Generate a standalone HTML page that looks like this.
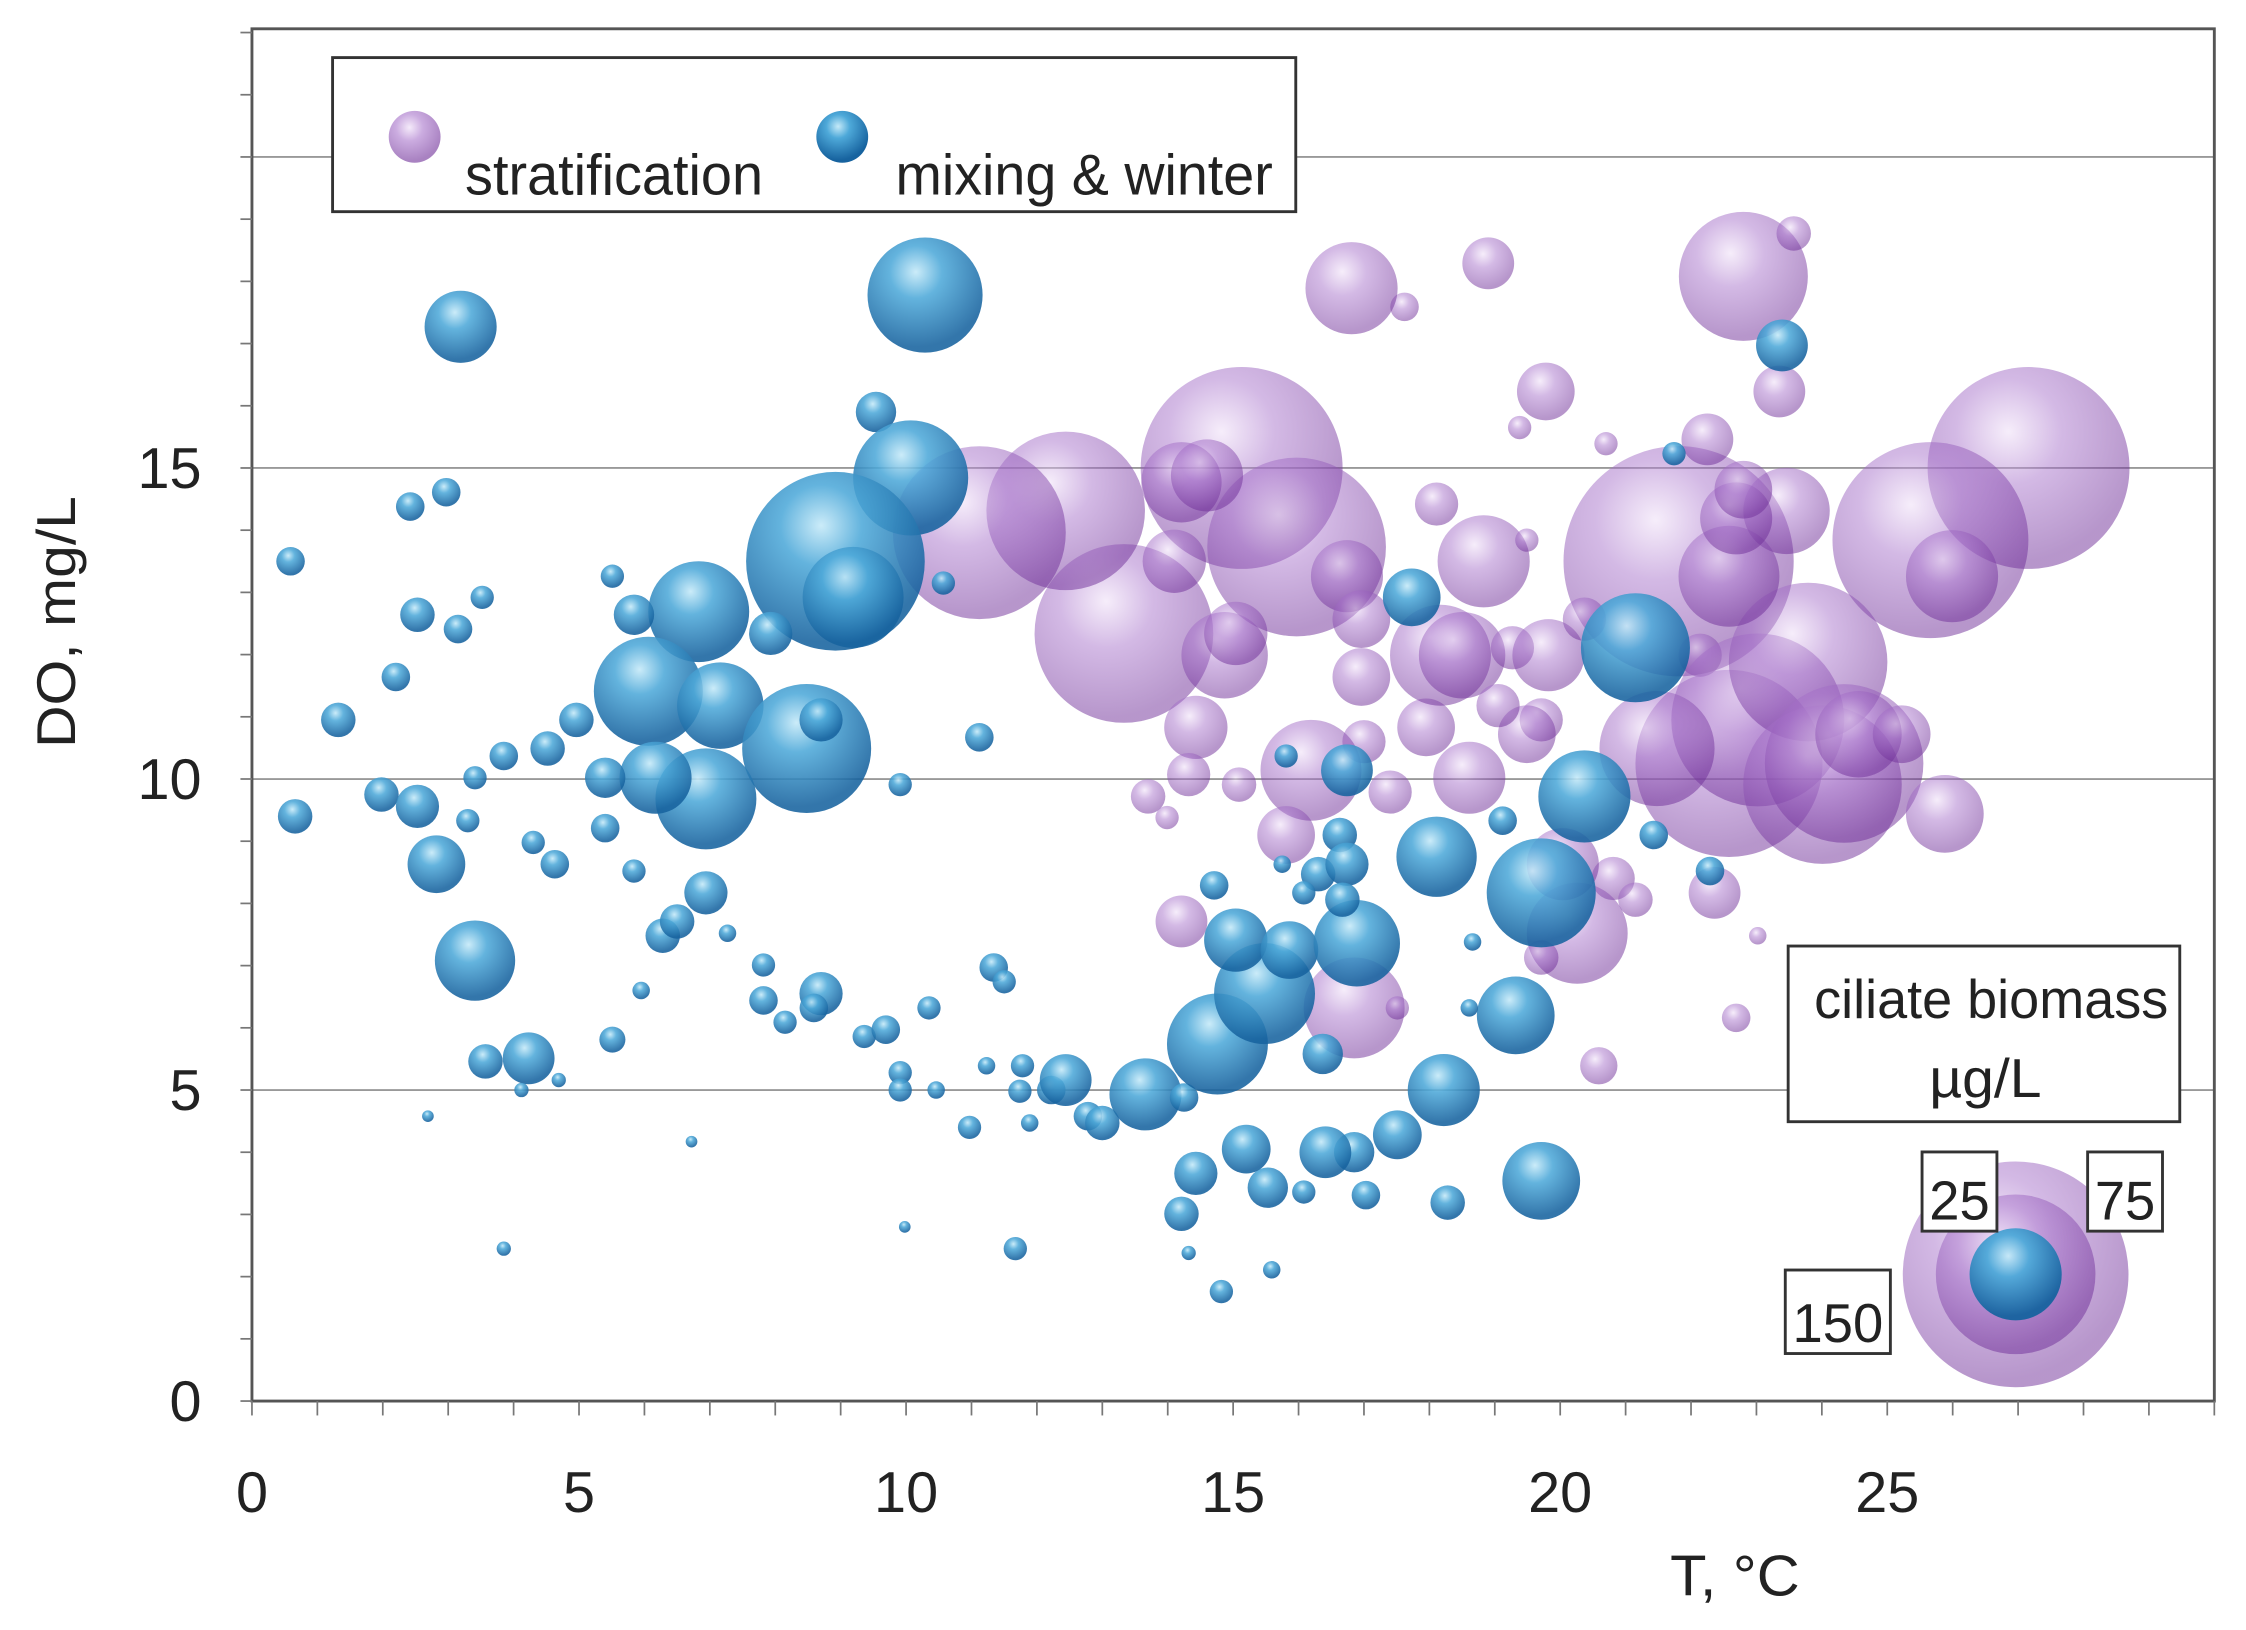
<!DOCTYPE html>
<html><head><meta charset="utf-8"><style>
html,body{margin:0;padding:0;background:#fff;}
svg{display:block;}
text{font-family:"Liberation Sans",sans-serif;fill:#222;}
</style></head><body>
<svg id="chart" width="2246" height="1630" viewBox="0 0 1560 1132" preserveAspectRatio="none" xmlns="http://www.w3.org/2000/svg">
<defs>
<radialGradient id="gp" cx="40%" cy="32%" r="65%"><stop offset="0" stop-color="#eddcf6"/><stop offset="0.4" stop-color="#a874cb"/><stop offset="1" stop-color="#6f2e98"/></radialGradient>
<radialGradient id="gb" cx="42%" cy="30%" r="65%"><stop offset="0" stop-color="#c4e9f8"/><stop offset="0.35" stop-color="#4ea9d9"/><stop offset="1" stop-color="#17639f"/></radialGradient>
</defs>
<g id="grid"></g>
<g id="purple"></g>
<g id="blue"></g>
<rect x="175" y="20" width="1363" height="953" fill="none" stroke="#555" stroke-width="2"/>
<g id="axes"></g>
<g>
<rect x="231" y="40" width="669" height="107" fill="#fff" stroke="#333" stroke-width="2"/>
<circle cx="288" cy="95" r="18" fill="url(#gp)" fill-opacity="0.6"/>
<text x="323" y="135" font-size="40" textLength="207" lengthAdjust="spacingAndGlyphs">stratification</text>
<circle cx="585" cy="95" r="18" fill="url(#gb)"/>
<text x="622" y="135" font-size="40" textLength="262" lengthAdjust="spacingAndGlyphs">mixing &amp; winter</text>
</g>
<g>
<rect x="1242" y="657" width="272" height="122" fill="#fff" stroke="#333" stroke-width="2"/>
<text x="1260" y="707" font-size="38" textLength="246" lengthAdjust="spacingAndGlyphs">ciliate biomass</text>
<text x="1340" y="762" font-size="38" textLength="78" lengthAdjust="spacingAndGlyphs">µg/L</text>
<g id="sizeleg"></g>
<rect x="1335" y="800" width="52" height="55" fill="#fff" stroke="#333" stroke-width="2"/>
<text x="1340" y="847" font-size="38" textLength="42" lengthAdjust="spacingAndGlyphs">25</text>
<rect x="1450" y="800" width="52" height="55" fill="#fff" stroke="#333" stroke-width="2"/>
<text x="1455" y="847" font-size="38" textLength="42" lengthAdjust="spacingAndGlyphs">75</text>
<rect x="1240" y="882" width="73" height="58" fill="#fff" stroke="#333" stroke-width="2"/>
<text x="1245" y="932" font-size="38" textLength="63" lengthAdjust="spacingAndGlyphs">150</text>
</g>
<text transform="translate(52,432) rotate(-90)" text-anchor="middle" font-size="38" textLength="175" lengthAdjust="spacingAndGlyphs">DO, mg/L</text>
<text x="1160" y="1108" font-size="40" textLength="90" lengthAdjust="spacingAndGlyphs">T, °C</text>
</svg>
<script>
const xTicks=[0,5,10,15,20,25];
const yTicks=[0,5,10,15];
const stratT=[27.16,25.66,25.99,21.81,22.8,23.57,23.35,22.25,23.46,20.7,19.78,19.38,18.9,17.62,16.81,15.13,15.97,13.33,12.44,11.12,14.21,14.6,14.1,14.87,14.43,14.32,15.09,15.04,16.74,16.96,16.96,17.0,16.19,15.81,17.4,17.95,18.17,18.83,18.5,18.61,19.27,19.82,19.71,19.49,19.05,20.37,22.14,22.58,23.02,23.79,24.01,24.34,22.58,22.69,22.8,21.48,24.56,25.22,25.88,22.36,20.81,21.15,23.02,22.69,20.59,20.26,20.04,16.85,14.21,13.7,13.99,19.49,18.11,19.71,17.51];
const stratDO=[15.0,13.84,13.26,13.5,18.08,18.77,16.23,15.46,14.31,15.39,16.23,15.65,18.29,17.59,17.89,15.0,13.73,12.34,14.31,13.96,14.77,14.88,13.5,11.99,10.83,10.07,9.91,12.34,13.26,12.57,11.64,10.6,10.14,9.1,9.79,10.83,11.99,13.5,11.99,10.02,12.11,11.99,10.95,10.72,11.18,12.57,11.99,10.25,10.95,11.88,9.91,10.25,13.26,14.19,14.65,10.49,10.72,10.72,9.44,8.17,8.4,8.06,7.48,6.16,5.39,7.52,8.63,6.32,7.71,9.72,9.38,13.84,14.42,7.13,6.32];
const stratB=[120,113,25,156,49,3.5,7.9,7.9,22,1.6,9.8,1.6,7.9,2.4,25,120,94,94,74,88,19,15.3,11.8,22,11.8,5.5,3.5,11.8,15.3,9.8,9.8,5.5,30,9.8,5.5,9.8,30,25,22,15.3,5.5,15.3,5.5,9.8,5.5,5.5,5.5,103,88,74,74,74,30,15.3,9.8,39,22,9.8,17.8,7.9,5.5,3.5,0.9,2.4,4.1,30,15.3,30,7.9,3.5,1.6,1.6,5.5,3.5,1.6];
const mixT=[3.19,10.29,9.54,10.07,8.92,9.19,6.83,6.06,7.16,8.48,6.94,6.17,0.59,2.42,2.97,2.53,3.15,3.52,2.2,1.32,0.66,1.98,2.53,2.82,3.41,4.23,3.57,5.51,3.85,2.69,6.72,5.84,5.51,10.57,11.12,9.91,7.93,8.7,4.96,4.52,5.4,3.85,3.41,3.3,5.4,4.63,4.3,5.84,6.28,6.94,6.5,7.27,5.95,7.82,7.82,8.7,8.59,8.15,9.36,9.69,9.91,10.35,11.34,11.5,11.78,11.23,10.46,9.91,10.97,11.74,11.89,12.22,12.44,12.78,13.0,13.66,14.25,14.76,15.48,15.04,15.86,16.89,16.3,16.63,16.74,16.74,16.67,16.08,15.75,15.81,18.11,17.73,18.22,19.32,19.71,20.37,21.15,21.43,22.29,21.74,23.39,19.71,18.28,17.51,16.85,16.41,17.03,16.08,15.53,15.2,14.43,14.21,14.82,15.59,14.32,11.67,9.98,14.71,16.37,18.66,19.12,18.61,4.12,4.69];
const mixDO=[17.27,17.78,15.9,14.84,13.5,12.92,12.69,11.41,11.18,10.49,9.68,10.02,13.5,14.38,14.61,12.64,12.41,12.92,11.64,10.95,9.4,9.75,9.56,8.63,7.08,5.51,5.46,5.81,2.45,4.58,4.17,12.64,13.26,13.15,10.67,9.91,12.34,10.95,10.95,10.49,10.02,10.37,10.02,9.33,9.21,8.63,8.98,8.52,7.48,8.17,7.71,7.52,6.6,7.01,6.44,6.55,6.32,6.09,5.86,5.97,5.28,6.32,6.97,6.74,5.39,5.39,5.0,5.0,4.4,4.98,4.47,5.0,5.16,4.58,4.47,4.93,4.88,5.74,6.55,7.41,7.25,7.36,8.47,9.1,10.14,8.63,8.06,8.17,8.63,10.37,8.75,12.92,5.0,6.2,8.17,9.72,12.11,9.1,8.52,15.23,16.97,3.54,3.19,4.28,4.0,4.0,3.31,3.36,3.43,4.05,3.66,3.01,1.76,2.11,2.38,2.45,2.8,8.29,5.58,7.38,9.33,6.32,5.0,5.16];
const mixB=[15.3,39,4.8,39,94,30,30,35,22,49,30,15.3,2.4,2.4,2.4,3.5,2.4,1.6,2.4,3.5,3.5,3.5,5.5,9.8,19,7.9,3.5,2,0.6,0.4,0.4,4.8,1.6,1.6,2.4,1.6,5.5,5.5,3.5,3.5,4.8,2.4,1.6,1.6,2.4,2.4,1.6,1.6,3.5,5.5,3.5,0.9,0.9,1.6,2.4,5.5,2.4,1.6,1.6,2.4,1.6,1.6,2.4,1.6,1.6,0.9,0.9,1.6,1.6,1.6,0.9,2.4,7.9,2.4,3.5,15.3,2.4,30,30,11.8,9.8,22,3.5,3.5,7.9,5.5,3.5,1.6,0.9,1.6,19,9.8,15.3,17.8,35,25,35,2.4,2.4,1.6,7.9,17.8,3.5,7,4.8,7.9,2.4,1.6,4.8,7,5.5,3.5,1.6,0.9,0.6,1.6,0.4,2.4,4.8,0.9,2.4,0.9,0.6,0.6];
const legendSizes=[150,75,25];

const NS="http://www.w3.org/2000/svg";
const X0=175,X1=1538,Y0=973,YT=20;
function xs(t){return X0+t*(X1-X0)/30;}
function ys(d){return Y0-d*43.2;}
function rs(b){return 6.4*Math.sqrt(b);}
function mk(tag,attrs,parent){const e=document.createElementNS(NS,tag);for(const k in attrs)e.setAttribute(k,attrs[k]);parent.appendChild(e);return e;}
const grid=document.getElementById('grid'),axes=document.getElementById('axes');
[5,10,15,20].forEach(v=>{const l=mk('line',{x1:X0,x2:X1,y1:ys(v),y2:ys(v),stroke:'#999','stroke-width':1.3},grid);

});
for(let v=0;v<=22;v++){const l=mk('line',{x1:X0-8,x2:X0,y1:ys(v),y2:ys(v),stroke:'#777','stroke-width':1.2},axes);

}
for(let v=0;v<=30;v++){const l=mk('line',{x1:xs(v),x2:xs(v),y1:Y0,y2:Y0+10,stroke:'#777','stroke-width':1.2},axes);

}
yTicks.forEach(v=>{const t=mk('text',{x:140,y:ys(v)+14,'text-anchor':'end','font-size':40},axes);t.textContent=v;

});
xTicks.forEach(v=>{const t=mk('text',{x:xs(v),y:1050,'text-anchor':'middle','font-size':40},axes);t.textContent=v;

});
const gp=document.getElementById('purple');
stratT.forEach((t,i)=>{const c=mk('circle',{cx:xs(t),cy:ys(stratDO[i]),r:rs(stratB[i]),fill:'url(#gp)','fill-opacity':0.5},gp);

});
const gbb=document.getElementById('blue');
mixT.forEach((t,i)=>{const c=mk('circle',{cx:xs(t),cy:ys(mixDO[i]),r:rs(mixB[i]),fill:'url(#gb)','fill-opacity':0.88},gbb);

});
const sl=document.getElementById('sizeleg');
legendSizes.forEach((b,i)=>{const c=mk('circle',{cx:1400,cy:885,r:rs(b),fill:i<2?'url(#gp)':'url(#gb)','fill-opacity':i<2?0.5:0.95},sl);

});
</script>
</body></html>
